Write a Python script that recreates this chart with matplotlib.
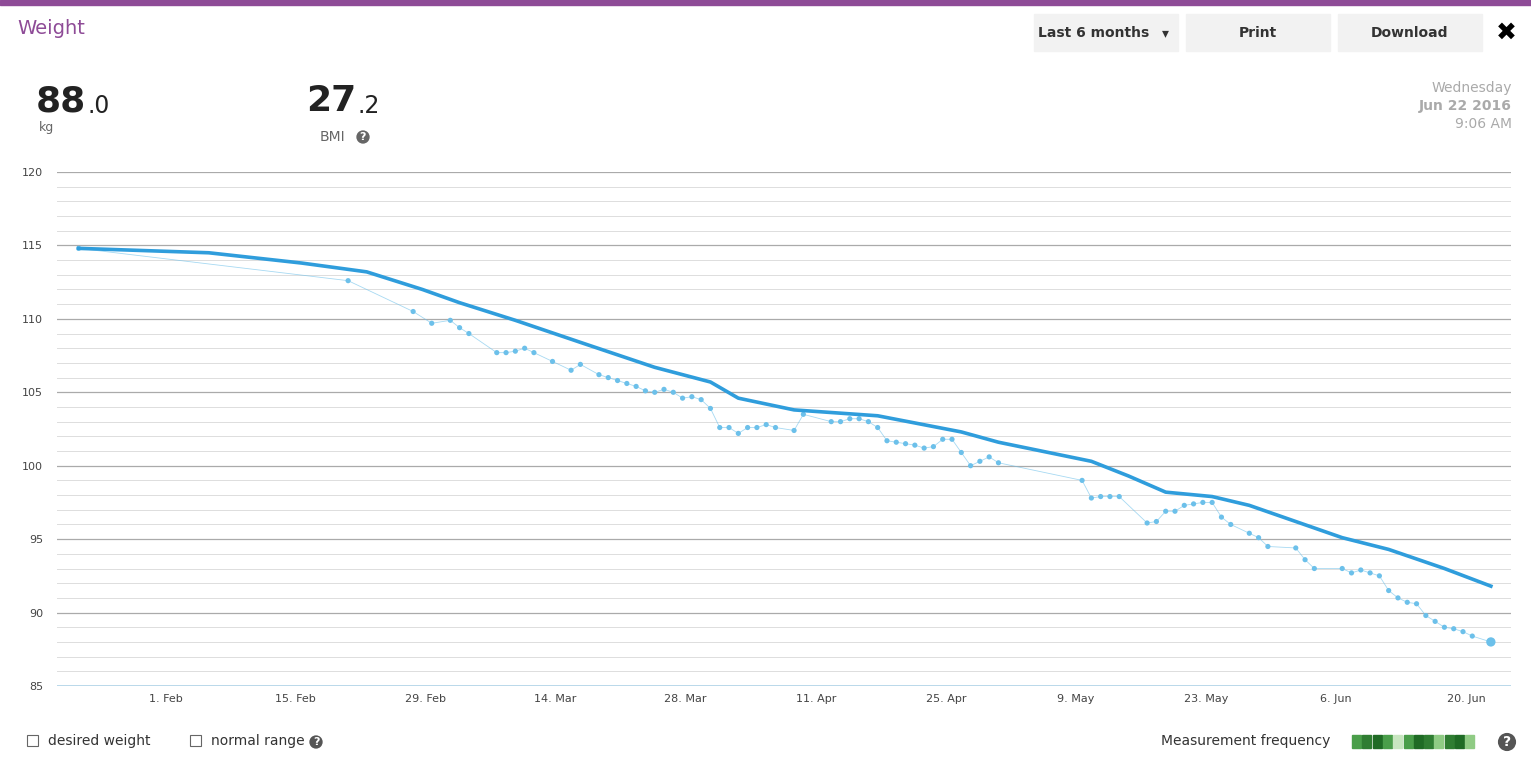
import numpy as np
import matplotlib.pyplot as plt
import matplotlib.dates as mdates
from matplotlib.patches import Rectangle
from datetime import datetime, timedelta

# measurements (date, kg)
meas_dates = ["2016-01-22", "2016-02-20", "2016-02-27", "2016-02-29", "2016-03-02", "2016-03-03",
              "2016-03-04", "2016-03-07", "2016-03-08", "2016-03-09", "2016-03-10", "2016-03-11",
              "2016-03-13", "2016-03-15", "2016-03-16", "2016-03-18", "2016-03-19", "2016-03-20",
              "2016-03-21", "2016-03-22", "2016-03-23", "2016-03-24", "2016-03-25", "2016-03-26",
              "2016-03-27", "2016-03-28", "2016-03-29", "2016-03-30", "2016-03-31", "2016-04-01",
              "2016-04-02", "2016-04-03", "2016-04-04", "2016-04-05", "2016-04-06", "2016-04-08",
              "2016-04-09", "2016-04-12", "2016-04-13", "2016-04-14", "2016-04-15", "2016-04-16",
              "2016-04-17", "2016-04-18", "2016-04-19", "2016-04-20", "2016-04-21", "2016-04-22",
              "2016-04-23", "2016-04-24", "2016-04-25", "2016-04-26", "2016-04-27", "2016-04-28",
              "2016-04-29", "2016-04-30", "2016-05-09", "2016-05-10", "2016-05-11", "2016-05-12",
              "2016-05-13", "2016-05-16", "2016-05-17", "2016-05-18", "2016-05-19", "2016-05-20",
              "2016-05-21", "2016-05-22", "2016-05-23", "2016-05-24", "2016-05-25", "2016-05-27",
              "2016-05-28", "2016-05-29", "2016-06-01", "2016-06-02", "2016-06-03", "2016-06-06",
              "2016-06-07", "2016-06-08", "2016-06-09", "2016-06-10", "2016-06-11", "2016-06-12",
              "2016-06-13", "2016-06-14", "2016-06-15", "2016-06-16", "2016-06-17", "2016-06-18",
              "2016-06-19", "2016-06-20", "2016-06-22"]
meas_kg = [114.8, 112.6, 110.5, 109.7, 109.9, 109.4, 109.0, 107.7, 107.7, 107.8, 108.0, 107.7,
           107.1, 106.5, 106.9, 106.2, 106.0, 105.8, 105.6, 105.4, 105.1, 105.0, 105.2, 105.0,
           104.6, 104.7, 104.5, 103.9, 102.6, 102.6, 102.2, 102.6, 102.6, 102.8, 102.6, 102.4,
           103.5, 103.0, 103.0, 103.2, 103.2, 103.0, 102.6, 101.7, 101.6, 101.5, 101.4, 101.2,
           101.3, 101.8, 101.8, 100.9, 100.0, 100.3, 100.6, 100.2, 99.0, 97.8, 97.9, 97.9,
           97.9, 96.1, 96.2, 96.9, 96.9, 97.3, 97.4, 97.5, 97.5, 96.5, 96.0, 95.4,
           95.1, 94.5, 94.4, 93.6, 93.0, 93.0, 92.7, 92.9, 92.7, 92.5, 91.5, 91.0,
           90.7, 90.6, 89.8, 89.4, 89.0, 88.9, 88.7, 88.4, 88.0]

# trend line
trend_dates = ["2016-01-22", "2016-02-05", "2016-02-15", "2016-02-22", "2016-02-28", "2016-03-03",
               "2016-03-09", "2016-03-16", "2016-03-24", "2016-03-30", "2016-04-02", "2016-04-08",
               "2016-04-17", "2016-04-26", "2016-04-30", "2016-05-10", "2016-05-14", "2016-05-18",
               "2016-05-23", "2016-05-27", "2016-06-01", "2016-06-06", "2016-06-11", "2016-06-17",
               "2016-06-22"]
trend_kg = [114.8, 114.5, 113.8, 113.2, 112.0, 111.1, 109.9, 108.4, 106.7, 105.7, 104.6, 103.8,
            103.4, 102.3, 101.6, 100.3, 99.3, 98.2, 97.9, 97.3, 96.2, 95.1, 94.3, 93.0, 91.8]

tick_dates = ["2016-02-01", "2016-02-15", "2016-02-29", "2016-03-14", "2016-03-28", "2016-04-11",
              "2016-04-25", "2016-05-09", "2016-05-23", "2016-06-06", "2016-06-20"]
tick_labels = ["1. Feb", "15. Feb", "29. Feb", "14. Mar", "28. Mar", "11. Apr",
               "25. Apr", "9. May", "23. May", "6. Jun", "20. Jun"]
freq_colors = ["#4a9e4a", "#2f7d32", "#1f6b25", "#4a9e4a", "#c8e6c0", "#4a9e4a", "#1f6b25",
               "#2f7d32", "#8fcb84", "#2f7d32", "#1f6b25", "#8fcb84"]

# weigh-ins happen during the day, shift from midnight
offset = timedelta(hours=16)
md = [datetime.fromisoformat(d) + offset for d in meas_dates]
td = [datetime.fromisoformat(d) + offset for d in trend_dates]

fig = plt.figure(figsize=(15.31, 7.65), dpi=100)
ax = fig.add_axes([57 / 1531, 1 - 686 / 765, (1511 - 57) / 1531, (686 - 172) / 765])

for v in range(85, 121):
    major = v % 5 == 0
    ax.axhline(v, color="#aaaaaa" if major else "#dddddd", lw=0.9 if major else 0.7, zorder=0)

blue = "#6cc0ea"
ax.plot(md, meas_kg, color=blue, lw=0.6, alpha=0.6)
ax.scatter(md[:-1], meas_kg[:-1], s=14, color=blue, zorder=3, edgecolors="none")
ax.scatter(md[-1:], meas_kg[-1:], s=45, color=blue, zorder=3, edgecolors="none")
ax.plot(td, trend_kg, color="#2f9ddc", lw=2.6, zorder=4, solid_joinstyle="round")

ax.set_ylim(85, 120)
ax.set_xlim(datetime(2016, 1, 20, 8), datetime(2016, 6, 24, 20))
ax.set_yticks(range(85, 121, 5))
ax.set_xticks([datetime.fromisoformat(d) for d in tick_dates])
ax.set_xticklabels(tick_labels)
ax.tick_params(labelsize=8, colors="#444444", length=0, pad=6)
ax.tick_params(axis="y", pad=10)
for s in ax.spines.values():
    s.set_visible(False)
ax.axhline(85, color="#b0d4e8", lw=1.2)

# header
fig.patches.append(Rectangle((0, 1 - 5 / 765), 1, 5 / 765, transform=fig.transFigure, color="#8e4b97"))
fig.text(17 / 1531, 1 - 29 / 765, "Weight", color="#8e4b97", fontsize=14, va="center")
for x0, w, lab in [(1034, 144, "Last 6 months"), (1186, 144, "Print"), (1338, 144, "Download")]:
    fig.patches.append(Rectangle((x0 / 1531, 1 - 51 / 765), w / 1531, 37 / 765,
                                 transform=fig.transFigure, color="#f2f2f2"))
    fig.text((x0 + (w / 2 if lab != "Last 6 months" else 60)) / 1531, 1 - 33 / 765, lab,
             ha="center", va="center", fontsize=10, weight="bold", color="#333333")
fig.text(1165 / 1531, 1 - 33 / 765, "▾", ha="center", va="center", fontsize=10, color="#333333")
fig.text(1506 / 1531, 1 - 33 / 765, "✖", ha="center", va="center", fontsize=18, color="black")

fig.text(36 / 1531, 1 - 101 / 765, "88", fontsize=26, weight="bold", color="#222222", va="center")
fig.text(87 / 1531, 1 - 106 / 765, ".0", fontsize=17, color="#222222", va="center")
fig.text(47 / 1531, 1 - 127 / 765, "kg", fontsize=9, color="#666666", va="center", ha="center")
fig.text(306 / 1531, 1 - 101 / 765, "27", fontsize=26, weight="bold", color="#222222", va="center")
fig.text(357 / 1531, 1 - 106 / 765, ".2", fontsize=17, color="#222222", va="center")
fig.text(332 / 1531, 1 - 137 / 765, "BMI", fontsize=10, color="#666666", va="center", ha="center")
fig.text(363 / 1531, 1 - 137 / 765, "?", fontsize=8, color="white", va="center", ha="center", weight="bold",
         bbox=dict(boxstyle="circle,pad=0.15", fc="#666666", ec="none"))

fig.text(1512 / 1531, 1 - 88 / 765, "Wednesday", fontsize=10, color="#aaaaaa", ha="right", va="center")
fig.text(1512 / 1531, 1 - 106 / 765, "Jun 22 2016", fontsize=10, color="#aaaaaa", ha="right", va="center", weight="bold")
fig.text(1512 / 1531, 1 - 124 / 765, "9:06 AM", fontsize=10, color="#aaaaaa", ha="right", va="center")

# footer
for x0, lab in [(27, "desired weight"), (190, "normal range")]:
    fig.patches.append(Rectangle((x0 / 1531, 1 - 746 / 765), 11 / 1531, 11 / 765, transform=fig.transFigure,
                                 fc="white", ec="#666666", lw=0.8))
    fig.text((x0 + 21) / 1531, 1 - 741 / 765, lab, fontsize=10, color="#333333", va="center")
for xq in (316, 1507):
    fig.text(xq / 1531, 1 - 742 / 765, "?", fontsize=8 if xq < 1000 else 10, color="white", va="center",
             ha="center", weight="bold", bbox=dict(boxstyle="circle,pad=0.15", fc="#555555", ec="none"))
fig.text(1330 / 1531, 1 - 741 / 765, "Measurement frequency", fontsize=10, color="#333333", ha="right", va="center")
for i, c in enumerate(freq_colors):
    fig.patches.append(Rectangle(((1352 + i * 10.3) / 1531, 1 - 748 / 765), 9 / 1531, 13 / 765,
                                 transform=fig.transFigure, color=c))

fig.savefig("out.png", dpi=100)
